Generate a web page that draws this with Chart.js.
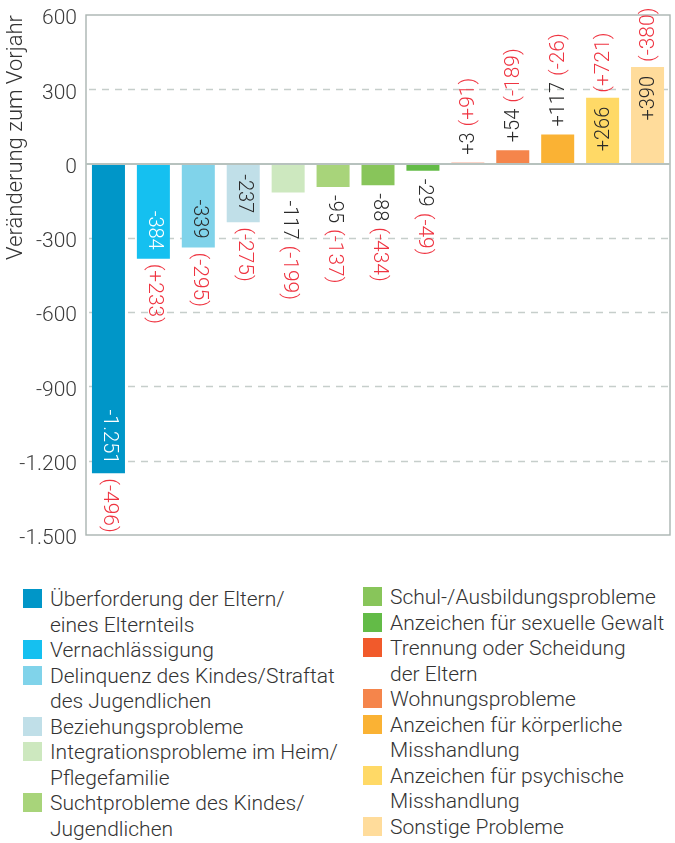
<!DOCTYPE html>
<html><head><meta charset="utf-8">
<script src="https://cdn.jsdelivr.net/npm/chart.js@4.4.1/dist/chart.umd.min.js"></script>
<style>
html,body{margin:0;padding:0;background:#fff;}
body{width:675px;height:843px;position:relative;overflow:hidden;font-family:Roboto,sans-serif;font-weight:300;color:#333;}
#wrap{position:absolute;left:0;top:0;width:675px;height:560px;}
#legend{position:absolute;top:587px;left:0;width:675px;font-size:21px;line-height:25.5px;}
.col{position:absolute;top:0;}
.item{position:relative;padding-left:27px;white-space:nowrap;}
.sw{position:absolute;left:0;top:2px;width:19px;height:19px;}
</style></head><body>
<div id="wrap"><canvas id="c"></canvas></div>
<div id="legend"><div class="col" id="colL" style="left:23px;top:0px"></div><div class="col" id="colR" style="left:363px;top:-2px"></div></div>
<script>
const categories = [
  ["Überforderung der Eltern/", "eines Elternteils"],
  ["Vernachlässigung"],
  ["Delinquenz des Kindes/Straftat", "des Jugendlichen"],
  ["Beziehungsprobleme"],
  ["Integrationsprobleme im Heim/", "Pflegefamilie"],
  ["Suchtprobleme des Kindes/", "Jugendlichen"],
  ["Schul-/Ausbildungsprobleme"],
  ["Anzeichen für sexuelle Gewalt"],
  ["Trennung oder Scheidung", "der Eltern"],
  ["Wohnungsprobleme"],
  ["Anzeichen für körperliche", "Misshandlung"],
  ["Anzeichen für psychische", "Misshandlung"],
  ["Sonstige Probleme"]
];
const values = [-1251, -384, -339, -237, -117, -95, -88, -29, 3, 54, 117, 266, 390];
const changes = [-496, 233, -295, -275, -199, -137, -434, -49, 91, -189, -26, 721, -380];
const yTicks = [600, 300, 0, -300, -600, -900, -1200, -1500];
const yTickLabels = ["600", "300", "0", "-300", "-600", "-900", "-1.200", "-1.500"];
const yTitle = "Veränderung zum Vorjahr";

const colors = ["#0096c8", "#15c0f0", "#80d3ea", "#c0dfe8", "#cde8bf", "#a8d47a", "#88c55a", "#63bb47",
                "#f15a2b", "#f5854b", "#fab234", "#ffd966", "#ffdc9b"];
const valueTextColors = ["#ffffff", "#ffffff", "#2a2a2a", "#2a2a2a", "#2a2a2a", "#2a2a2a", "#2a2a2a", "#2a2a2a",
                         "#2a2a2a", "#2a2a2a", "#2a2a2a", "#2a2a2a", "#2a2a2a"];
const RED = "#ef3441";

function fmt(v) {
  const s = Math.abs(v).toString().replace(/\B(?=(\d{3})+(?!\d))/g, ".");
  return (v > 0 ? "+" : v < 0 ? "-" : "") + s;
}

const framePlugin = {
  id: "frame",
  beforeDatasetsDraw(chart) {
    const {ctx, chartArea: a, scales: {y}} = chart;
    ctx.save();
    ctx.strokeStyle = "#c6cecb";
    ctx.lineWidth = 1.3;
    ctx.setLineDash([7, 6]);
    yTicks.forEach(v => {
      if (v === 0 || v === yTicks[0] || v === yTicks[yTicks.length - 1]) return;
      const py = Math.round(y.getPixelForValue(v)) + 0.5;
      ctx.beginPath(); ctx.moveTo(a.left + 3, py); ctx.lineTo(a.right, py); ctx.stroke();
    });
    ctx.setLineDash([]);
    ctx.strokeStyle = "#aab4b1";
    ctx.lineWidth = 1.4;
    ctx.strokeRect(a.left, a.top, a.right - a.left, a.bottom - a.top);
    ctx.restore();
  },
  afterDatasetsDraw(chart) {
    const {ctx, chartArea: a, scales: {y}} = chart;
    ctx.save();
    ctx.strokeStyle = "#b7c2be";
    ctx.lineWidth = 2;
    const pz = y.getPixelForValue(0) + 0.5;
    ctx.beginPath(); ctx.moveTo(a.left, pz); ctx.lineTo(a.right, pz); ctx.stroke();
    const meta = chart.getDatasetMeta(0);
    ctx.textBaseline = "middle";
    ctx.textAlign = "left";
    meta.data.forEach((bar, i) => {
      const {x, y: by, base} = bar.getProps(["x", "y", "base"], true);
      const L = Math.abs(base - by);
      const dir = values[i] < 0 ? 1 : -1;
      const vt = fmt(values[i]);
      const ct = "(" + fmt(changes[i]) + ")";
      ctx.font = "300 20px Roboto";
      const wv = ctx.measureText(vt).width;
      let vs, cs;
      if (wv + 17 <= L) { vs = L - 9 - wv; cs = L + 5; }
      else { vs = L + 8; cs = L + 8 + wv + 6; }
      ctx.save();
      ctx.translate(x + 1, base);
      ctx.rotate(dir * Math.PI / 2);
      ctx.fillStyle = valueTextColors[i];
      ctx.fillText(vt, vs, 0);
      ctx.font = "300 21px Roboto";
      ctx.fillStyle = RED;
      ctx.fillText(ct, cs, 0);
      ctx.restore();
    });
    ctx.restore();
  }
};

new Chart(document.getElementById("c"), {
  type: "bar",
  data: {
    labels: categories,
    datasets: [{
      data: values,
      backgroundColor: colors,
      borderWidth: 0,
      barPercentage: 0.735,
      categoryPercentage: 1
    }]
  },
  options: {
    responsive: true,
    maintainAspectRatio: false,
    devicePixelRatio: 1,
    animation: false,
    layout: {padding: {top: 15, right: 5, bottom: 25, left: 0}},
    plugins: {legend: {display: false}, tooltip: {enabled: false}},
    scales: {
      x: {display: false},
      y: {
        min: yTicks[yTicks.length - 1],
        max: yTicks[0],
        afterBuildTicks(scale) { scale.ticks = yTicks.map(v => ({value: v})); },
        afterFit(scale) { scale.width = 86; scale.paddingTop = 0; scale.paddingBottom = 0; },
        grid: {display: false, drawTicks: false},
        border: {display: false},
        ticks: {
          padding: 9,
          labelOffset: 4,
          color: "#3a3a3a",
          font: {family: "Roboto", size: 21, weight: "300"},
          callback: (v) => { const i = yTicks.indexOf(v); return i >= 0 ? yTickLabels[i] : ""; }
        },
        title: {
          display: true,
          text: yTitle,
          align: "end",
          color: "#333",
          font: {family: "Roboto", size: 22, weight: "300"},
          padding: {top: 3, bottom: 0}
        }
      }
    }
  },
  plugins: [framePlugin]
});

function addItems(el, from, to) {
  for (let i = from; i < to; i++) {
    const d = document.createElement("div");
    d.className = "item";
    const sw = document.createElement("span");
    sw.className = "sw";
    sw.style.background = colors[i];
    d.appendChild(sw);
    categories[i].forEach((line, k) => {
      if (k > 0) d.appendChild(document.createElement("br"));
      d.appendChild(document.createTextNode(line));
    });
    el.appendChild(d);
  }
}
addItems(document.getElementById("colL"), 0, 6);
addItems(document.getElementById("colR"), 6, 13);
</script>
</body></html>
